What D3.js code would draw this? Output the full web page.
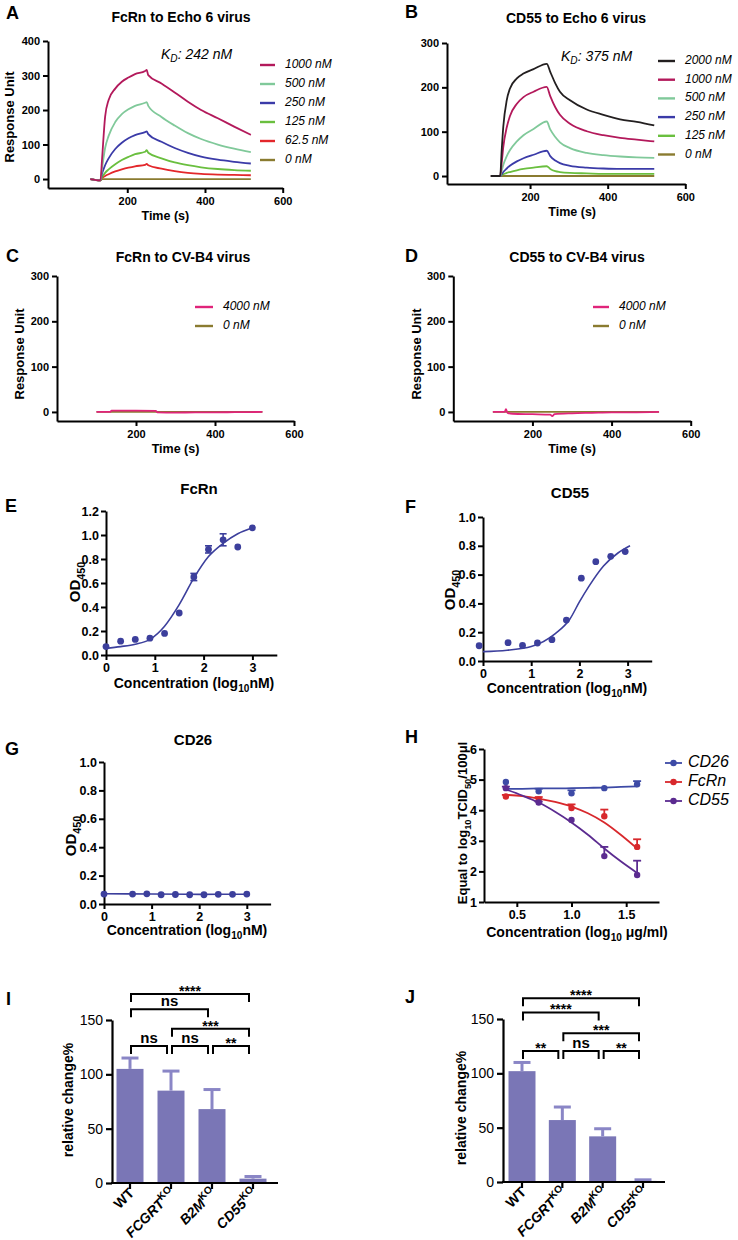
<!DOCTYPE html>
<html><head><meta charset="utf-8">
<script src="https://cdn.jsdelivr.net/npm/d3@7"></script>
<style>body{margin:0;background:#fff} svg{display:block}</style>
</head><body>
<svg id="c" width="738" height="1240"></svg>
<script>
// ---------------- DATA ----------------
// Panel A: FcRn to Echo 6 virus (SPR)
const timeA = [105, 131, 135, 143, 152, 169, 186, 203, 220, 246, 250, 254, 288, 322, 356, 390, 433, 475, 518];
const concA = ["1000 nM", "500 nM", "250 nM", "125 nM", "62.5 nM", "0 nM"];
const respA_1000 = [0, -4, 56, 181, 229, 262, 282, 294, 304, 313, 316, 301, 277, 251, 224, 200, 176, 152, 128];
const respA_500  = [0, -4, 30, 90, 125, 165, 188, 202, 212, 221, 223, 212, 180, 155, 133, 116, 100, 88, 78];
const respA_250  = [0, -4, 15, 40, 60, 87, 105, 118, 127, 136, 138, 130, 108, 90, 76, 65, 56, 50, 45];
const respA_125  = [0, -4, 5, 18, 28, 43, 55, 64, 72, 79, 84, 76, 60, 48, 40, 34, 29, 26, 24];
const respA_62   = [0, -4, 3, 9, 14, 22, 28, 33, 37, 41, 44, 40, 30, 23, 18, 15, 13, 12, 11];
const respA_0    = [0, -4, 0, 0, 0, 0, 0, 0, 0, 0, 0, 0, 0, 0, 0, 0, 0, 0, 0];
const kdA = "242 nM";

// Panel B: CD55 to Echo 6 virus (SPR)
const timeB = [99, 123, 127, 131, 140, 148, 166, 183, 209, 243, 252, 265, 277, 303, 346, 389, 432, 475, 520];
const concB = ["2000 nM", "1000 nM", "500 nM", "250 nM", "125 nM", "0 nM"];
const respB_2000 = [0, 0, 59, 111, 171, 197, 220, 231, 241, 253, 235, 209, 190, 171, 150, 138, 128, 122, 114];
const respB_1000 = [0, 0, 30, 65, 110, 135, 163, 178, 190, 201, 180, 155, 138, 118, 101, 92, 86, 82, 78];
const respB_500  = [0, 0, 12, 25, 45, 58, 78, 92, 106, 123, 105, 88, 76, 63, 52, 47, 44, 42, 41];
const respB_250  = [0, 0, 4, 9, 17, 23, 33, 40, 48, 57, 45, 35, 29, 23, 19, 17, 16, 16, 16];
const respB_125  = [0, 0, 2, 4, 7, 9, 13, 16, 19, 22, 16, 11, 9, 7, 6, 5, 5, 5, 5];
const respB_0    = [0, 0, 0, 0, 0, 0, 0, 0, 0, 0, 0, 0, 0, 0, 0, 0, 0, 0, 0];
const kdB = "375 nM";

// Panel C: FcRn to CV-B4 virus
const timeC = [100, 135, 138, 200, 250, 254, 300, 350, 400, 450, 520];
const concC = ["4000 nM", "0 nM"];
const respC_4000 = [0, 0, 3, 3, 2.5, -1, -1.5, -1, -1, -0.5, 0];
const respC_0    = [0, 0, 0, 0, 0, 0, 0, 0, 0, 0, 0];

// Panel D: CD55 to CV-B4 virus
const timeD = [100, 130, 133, 137, 150, 200, 245, 250, 256, 300, 350, 400, 450, 520];
const concD = ["4000 nM", "0 nM"];
const respD_4000 = [0, 0, 6, -2, -4, -5, -6, -9, -5, -3, -2, -1, -1, 0];
const respD_0    = [0, 0, 0, 0, 0, 0, 0, 0, 0, 0, 0, 0, 0, 0];

const timeTicks = [200, 400, 600];
const respTicksA = [0, 100, 200, 300, 400];
const respTicksB = [0, 100, 200, 300];

// Panel E: FcRn ELISA
const logE = [0, 0.3, 0.6, 0.9, 1.2, 1.5, 1.8, 2.1, 2.4, 2.7, 3.0];
const odE  = [0.07, 0.115, 0.13, 0.14, 0.18, 0.35, 0.65, 0.88, 0.96, 0.90, 1.06];
const errE = [0, 0, 0, 0, 0, 0, 0.03, 0.03, 0.05, 0, 0];
const fitXE = [0, 0.3, 0.6, 0.9, 1.2, 1.5, 1.8, 2.1, 2.4, 2.7, 3.0];
const fitYE = [0.055, 0.07, 0.09, 0.13, 0.24, 0.42, 0.64, 0.82, 0.93, 1.01, 1.06];

// Panel F: CD55 ELISA
const logF = [-0.08, 0.52, 0.82, 1.13, 1.43, 1.73, 2.04, 2.34, 2.65, 2.95];
const odF  = [0.106, 0.127, 0.108, 0.125, 0.148, 0.284, 0.575, 0.69, 0.727, 0.76];
const fitXF = [0, 0.5, 1.0, 1.5, 1.8, 2.0, 2.2, 2.5, 2.8, 3.05];
const fitYF = [0.065, 0.075, 0.1, 0.19, 0.29, 0.41, 0.52, 0.66, 0.75, 0.80];

// Panel G: CD26 ELISA
const logG = [0, 0.6, 0.9, 1.2, 1.5, 1.8, 2.1, 2.4, 2.7, 3.0];
const odG  = [0.07, 0.07, 0.072, 0.065, 0.067, 0.065, 0.065, 0.068, 0.068, 0.07];
const fitXG = [0, 1, 2, 3];
const fitYG = [0.072, 0.07, 0.068, 0.069];

const logTicks = [0, 1, 2, 3];
const odTicksE = [0, 0.2, 0.4, 0.6, 0.8, 1.0, 1.2];
const odTicksF = [0, 0.2, 0.4, 0.6, 0.8, 1.0];

// Panel H: neutralisation
const logH = [0.4, 0.7, 1.0, 1.3, 1.6];
const seriesH = ["CD26", "FcRn", "CD55"];
const titerCD26 = [4.92, 4.62, 4.55, 4.72, 4.85];
const errCD26   = [0, 0.08, 0.1, 0, 0.1];
const titerFcRn = [4.45, 4.35, 4.07, 3.8, 2.8];
const errFcRn   = [0.05, 0.08, 0.12, 0.22, 0.25];
const titerCD55 = [4.72, 4.25, 3.68, 2.5, 1.88];
const errCD55   = [0.05, 0.03, 0, 0.3, 0.47];
const fitXH = [0.4, 0.55, 0.7, 0.85, 1.0, 1.15, 1.3, 1.45, 1.6];
const fitCD26 = [4.7, 4.7, 4.71, 4.71, 4.72, 4.73, 4.74, 4.76, 4.78];
const fitFcRn = [4.5, 4.46, 4.38, 4.27, 4.12, 3.9, 3.6, 3.2, 2.75];
const fitCD55 = [4.68, 4.48, 4.25, 3.95, 3.6, 3.2, 2.75, 2.33, 1.95];
const logTicksH = [0.5, 1.0, 1.5];
const titerTicks = [1, 2, 3, 4, 5, 6];

// Panels I, J: bars
const cellLines = ["WT", "FCGRT", "B2M", "CD55"];
const barI = [105, 85, 68, 4];
const errI = [10, 18, 18, 2];
const barJ = [102, 57, 42, 1];
const errJ = [8, 12, 7, 1];
const barTicks = [0, 50, 100, 150];
const sigPairs = [["WT", "CD55"], ["WT", "B2M"], ["FCGRT", "CD55"], ["WT", "FCGRT"], ["FCGRT", "B2M"], ["B2M", "CD55"]];
const sigI = ["****", "ns", "***", "ns", "ns", "**"];
const sigJ = ["****", "****", "***", "**", "ns", "**"];

// ---------------- DRAWING ----------------
const FONT = '"Liberation Sans", Arial, Helvetica, sans-serif';
const svg = d3.select('#c');
svg.append('rect').attr('width', 738).attr('height', 1240).attr('fill', '#fff');

function styleAxis(sel, fs, fw, sw) {
  sel.attr('font-family', FONT).attr('font-size', fs);
  sel.select('.domain').attr('stroke', '#000').attr('stroke-width', sw);
  sel.selectAll('.tick line').attr('stroke', '#000').attr('stroke-width', sw);
  sel.selectAll('.tick text').attr('font-size', fs).attr('font-weight', fw).attr('fill', '#000');
}

function rich(g, x, y, parts, o) {
  o = o || {};
  const fs = o.fs || 12;
  const t = g.append('text').attr('x', x).attr('y', y)
    .attr('font-family', FONT).attr('font-size', fs)
    .attr('font-weight', o.fw || 'bold').attr('font-style', o.fi || 'normal')
    .attr('text-anchor', o.anchor || 'start').attr('fill', '#000');
  if (o.rot) t.attr('transform', `rotate(${o.rot},${x},${y})`);
  if (o.mid) t.attr('dominant-baseline', 'middle');
  let shift = 0;
  parts.forEach(p => {
    const s = typeof p === 'string' ? p : p[0];
    const kind = typeof p === 'string' ? 'n' : p[1];
    const target = kind === 'sub' ? fs * 0.3 : kind === 'sup' ? -fs * 0.4 : 0;
    const ts = t.append('tspan').attr('dy', target - shift).attr('font-size', kind === 'n' ? fs : fs * 0.72).text(s);
    if (p[2]) ts.attr('font-style', p[2]);
    shift = target;
  });
  return t;
}

function letter(x, y, s) { rich(svg, x, y, [s], { fs: 18 }); }

// ---- SPR panels ----
function sprPanel(p) {
  const x = d3.scaleLinear().domain(p.xd).range(p.xr);
  const y = d3.scaleLinear().domain(p.yd).range(p.yr);
  const g = svg.append('g');
  const ax = g.append('g').attr('transform', `translate(0,${p.yr[0]})`)
    .call(d3.axisBottom(x).tickValues(timeTicks).tickSize(5).tickSizeOuter(0).tickPadding(4));
  styleAxis(ax, 11, 'bold', 2);
  const ay = g.append('g').attr('transform', `translate(${p.xr[0]},0)`)
    .call(d3.axisLeft(y).tickValues(p.yTicks).tickSize(5).tickSizeOuter(0).tickPadding(3));
  styleAxis(ay, 11, 'bold', 2);
  const line = d3.line().x((d, i) => x(p.times[i])).y(d => y(d)).curve(d3.curveMonotoneX);
  p.series.slice().reverse().forEach(s => {
    g.append('path').attr('d', line(s.values)).attr('fill', 'none')
      .attr('stroke', s.color).attr('stroke-width', 1.8).attr('stroke-linejoin', 'round');
  });
  p.series.forEach((s, i) => {
    const ly = p.leg.y0 + i * p.leg.dy;
    g.append('line').attr('x1', p.leg.x0).attr('x2', p.leg.x1).attr('y1', ly).attr('y2', ly)
      .attr('stroke', s.color).attr('stroke-width', 2.4);
    rich(g, p.leg.tx, ly, [s.name], { fs: 12, fw: 'normal', fi: 'italic', mid: true });
  });
  const xm = (p.xr[0] + p.xr[1]) / 2 + (p.tShift || 0);
  rich(g, p.titleX, p.titleY, [p.title], { fs: 14, anchor: 'middle' });
  rich(g, xm, p.yr[0] + 32, ['Time (s)'], { fs: 12.5, anchor: 'middle' });
  if (p.ylab) rich(g, p.ylab[0], p.ylab[1], ['Response Unit'], { fs: 13, anchor: 'middle', rot: -90 });
  if (p.kd) rich(g, p.kd.x, p.kd.y, ['K', ['D', 'sub'], ':  ', p.kd.v], { fs: 14, fw: 'normal', fi: 'italic', mid: true });
}

const cols = { c2000: '#231f20', c1000: '#b3195b', c500: '#80c99a', c250: '#3b3ba8', c125: '#6abf3f', c62: '#e3272b', c0: '#8a7b30', c4000: '#e0247a' };

sprPanel({
  xd: [-4, 600], xr: [48, 282.7], yd: [-26, 400], yr: [188, 41], yTicks: respTicksA, times: timeA,
  series: [
    { name: concA[0], color: cols.c1000, values: respA_1000 },
    { name: concA[1], color: cols.c500, values: respA_500 },
    { name: concA[2], color: cols.c250, values: respA_250 },
    { name: concA[3], color: cols.c125, values: respA_125 },
    { name: concA[4], color: cols.c62, values: respA_62 },
    { name: concA[5], color: cols.c0, values: respA_0 }],
  leg: { x0: 260, x1: 275, tx: 285, y0: 65, dy: 19 },
  title: 'FcRn to Echo 6 virus', titleX: 181, titleY: 22,
  ylab: [14, 117], kd: { x: 161, y: 55, v: kdA }
});
sprPanel({
  xd: [-14, 600], xr: [447, 685.3], yd: [-18, 300], yr: [184, 43], yTicks: respTicksB, times: timeB,
  series: [
    { name: concB[0], color: cols.c2000, values: respB_2000 },
    { name: concB[1], color: cols.c1000, values: respB_1000 },
    { name: concB[2], color: cols.c500, values: respB_500 },
    { name: concB[3], color: cols.c250, values: respB_250 },
    { name: concB[4], color: cols.c125, values: respB_125 },
    { name: concB[5], color: cols.c0, values: respB_0 }],
  leg: { x0: 658, x1: 675, tx: 685, y0: 61, dy: 18.7 },
  title: 'CD55 to Echo 6 virus', titleX: 576, titleY: 23, tShift: 6,
  ylab: null, kd: { x: 561, y: 57, v: kdB }
});
sprPanel({
  xd: [0, 600], xr: [57, 294], yd: [-20, 300], yr: [421, 276], yTicks: respTicksB, times: timeC,
  series: [
    { name: concC[0], color: cols.c4000, values: respC_4000 },
    { name: concC[1], color: cols.c0, values: respC_0 }],
  leg: { x0: 195, x1: 213, tx: 223, y0: 307, dy: 19 },
  title: 'FcRn to CV-B4 virus', titleX: 183, titleY: 262,
  ylab: [24, 354]
});
sprPanel({
  xd: [0, 600], xr: [453.3, 690.7], yd: [-20, 300], yr: [421, 276], yTicks: respTicksB, times: timeD,
  series: [
    { name: concD[0], color: cols.c4000, values: respD_4000 },
    { name: concD[1], color: cols.c0, values: respD_0 }],
  leg: { x0: 593, x1: 609, tx: 619, y0: 307, dy: 19 },
  title: 'CD55 to CV-B4 virus', titleX: 577, titleY: 262,
  ylab: [421, 354]
});

// ---- ELISA panels ----
const dotBlue = '#3c3f9c';
function elisa(p) {
  const x = d3.scaleLinear().domain([0, 3.5]).range(p.xr);
  const y = d3.scaleLinear().domain([0, p.ymax]).range(p.yr);
  const g = svg.append('g');
  const ax = g.append('g').attr('transform', `translate(0,${p.yr[0]})`)
    .call(d3.axisBottom(x).tickValues(logTicks).tickFormat(d3.format('d')).tickSize(5).tickSizeOuter(0).tickPadding(3));
  styleAxis(ax, 12.5, 'bold', 2);
  const ay = g.append('g').attr('transform', `translate(${p.xr[0]},0)`)
    .call(d3.axisLeft(y).tickValues(p.ticks).tickFormat(d3.format('.1f')).tickSize(5).tickSizeOuter(0).tickPadding(2));
  styleAxis(ay, 12.5, 'bold', 2);
  const line = d3.line().x((d, i) => x(p.fx[i])).y(d => y(d)).curve(d3.curveMonotoneX);
  g.append('path').attr('d', line(p.fy)).attr('fill', 'none').attr('stroke', dotBlue).attr('stroke-width', 1.6);
  p.xs.forEach((xv, i) => {
    const e = p.err ? p.err[i] : 0;
    if (e > 0) {
      g.append('line').attr('x1', x(xv)).attr('x2', x(xv)).attr('y1', y(p.ys[i] - e)).attr('y2', y(p.ys[i] + e)).attr('stroke', dotBlue).attr('stroke-width', 1.6);
      [p.ys[i] - e, p.ys[i] + e].forEach(v => g.append('line').attr('x1', x(xv) - 3.5).attr('x2', x(xv) + 3.5).attr('y1', y(v)).attr('y2', y(v)).attr('stroke', dotBlue).attr('stroke-width', 1.6));
    }
    g.append('circle').attr('cx', x(xv)).attr('cy', y(p.ys[i])).attr('r', 3.4).attr('fill', dotBlue);
  });
  rich(g, p.titleX, p.titleY, [p.title], { fs: 15, anchor: 'middle' });
  rich(g, p.xlab[0], p.xlab[1], ['Concentration (log', ['10', 'sub'], 'nM)'], { fs: 14, anchor: 'middle' });
  rich(g, p.ylab[0], p.ylab[1], ['OD', ['450', 'sub']], { fs: 15, anchor: 'middle', rot: -90 });
}
elisa({ xr: [106, 276.8], ymax: 1.2, yr: [655, 511], ticks: odTicksE, xs: logE, ys: odE, err: errE, fx: fitXE, fy: fitYE,
  title: 'FcRn', titleX: 199, titleY: 494, xlab: [194, 688], ylab: [80, 582] });
elisa({ xr: [483, 651.7], ymax: 1.0, yr: [661, 517], ticks: odTicksF, xs: logF, ys: odF, err: null, fx: fitXF, fy: fitYF,
  title: 'CD55', titleX: 570, titleY: 498, xlab: [567, 693], ylab: [455, 590] });
elisa({ xr: [104, 270.6], ymax: 1.0, yr: [904, 762], ticks: odTicksF, xs: logG, ys: odG, err: null, fx: fitXG, fy: fitYG,
  title: 'CD26', titleX: 193, titleY: 745, xlab: [187, 935], ylab: [76, 836] });

// ---- Panel H ----
(function () {
  const x = d3.scaleLinear().domain([0.2, 1.8]).range([484, 659]);
  const y = d3.scaleLinear().domain([1, 6]).range([902, 749]);
  const g = svg.append('g');
  const ax = g.append('g').attr('transform', 'translate(0,902)')
    .call(d3.axisBottom(x).tickValues(logTicksH).tickFormat(d3.format('.1f')).tickSize(5).tickSizeOuter(0).tickPadding(3));
  styleAxis(ax, 12.5, 'bold', 2);
  const ay = g.append('g').attr('transform', 'translate(484,0)')
    .call(d3.axisLeft(y).tickValues(titerTicks).tickFormat(d3.format('d')).tickSize(5).tickSizeOuter(0).tickPadding(2));
  styleAxis(ay, 12.5, 'bold', 2);
  const colsH = ['#3d4aa6', '#d8282c', '#5b2b90'];
  const means = [titerCD26, titerFcRn, titerCD55];
  const errs = [errCD26, errFcRn, errCD55];
  const fits = [fitCD26, fitFcRn, fitCD55];
  const line = d3.line().x((d, i) => x(fitXH[i])).y(d => y(d)).curve(d3.curveMonotoneX);
  [0, 1, 2].forEach(k => {
    g.append('path').attr('d', line(fits[k])).attr('fill', 'none').attr('stroke', colsH[k]).attr('stroke-width', 1.8);
    logH.forEach((xv, i) => {
      const m = means[k][i], e = errs[k][i];
      if (e > 0) {
        g.append('line').attr('x1', x(xv)).attr('x2', x(xv)).attr('y1', y(m)).attr('y2', y(m + e)).attr('stroke', colsH[k]).attr('stroke-width', 1.8);
        g.append('line').attr('x1', x(xv) - 4).attr('x2', x(xv) + 4).attr('y1', y(m + e)).attr('y2', y(m + e)).attr('stroke', colsH[k]).attr('stroke-width', 1.8);
      }
      g.append('circle').attr('cx', x(xv)).attr('cy', y(m)).attr('r', 3.2).attr('fill', colsH[k]);
    });
    const ly = 763 + k * 19;
    g.append('line').attr('x1', 665).attr('x2', 682).attr('y1', ly).attr('y2', ly).attr('stroke', colsH[k]).attr('stroke-width', 1.8);
    g.append('circle').attr('cx', 673.5).attr('cy', ly).attr('r', 3.2).attr('fill', colsH[k]);
    rich(g, 688, ly, [seriesH[k]], { fs: 16, fw: 'normal', fi: 'italic', mid: true });
  });
  rich(g, 577, 937, ['Concentration (log', ['10', 'sub'], ' μg/ml)'], { fs: 14, anchor: 'middle' });
  rich(g, 467, 823, ['Equal to log', ['10', 'sub'], 'TCID', ['50', 'sub'], '/100μl'], { fs: 13, anchor: 'middle', rot: -90 });
})();

// ---- Bar panels ----
const barFill = '#7a76b6', errCol = '#8a86c6';
function barPanel(p) {
  const x = d3.scalePoint().domain(cellLines).range(p.xc);
  const y = d3.scaleLinear().domain([0, 150]).range(p.yr);
  const g = svg.append('g');
  const bw = 27;
  p.vals.forEach((v, i) => {
    const cx = x(cellLines[i]);
    g.append('rect').attr('x', cx - bw / 2).attr('y', y(v)).attr('width', bw).attr('height', y(0) - y(v)).attr('fill', barFill);
    const top = v + p.errs[i];
    g.append('line').attr('x1', cx).attr('x2', cx).attr('y1', y(v)).attr('y2', y(top)).attr('stroke', errCol).attr('stroke-width', 3);
    g.append('line').attr('x1', cx - 8.5).attr('x2', cx + 8.5).attr('y1', y(top)).attr('y2', y(top)).attr('stroke', errCol).attr('stroke-width', 3);
  });
  const ay = g.append('g').attr('transform', `translate(${p.axX[0]},0)`)
    .call(d3.axisLeft(y).tickValues(barTicks).tickSize(6).tickSizeOuter(0).tickPadding(3));
  styleAxis(ay, 14, 'normal', 2.2);
  g.append('line').attr('x1', p.axX[0] - 1).attr('x2', p.axX[1]).attr('y1', p.yr[0]).attr('y2', p.yr[0]).attr('stroke', '#000').attr('stroke-width', 2.2);
  cellLines.forEach((c, i) => {
    const cx = x(c);
    g.append('line').attr('x1', cx).attr('x2', cx).attr('y1', p.yr[0]).attr('y2', p.yr[0] + 6).attr('stroke', '#000').attr('stroke-width', 2.2);
    const parts = i === 0 ? ['WT'] : [[c, 'n', 'italic'], ['KO', 'sup']];
    rich(g, cx + 5, p.yr[0] + 11, parts, { fs: 14, anchor: 'end', rot: -45 });
  });
  // significance brackets
  sigPairs.forEach((pr, k) => {
    const lv = p.levels[k];
    const x1 = x(pr[0]) + 1, x2 = x(pr[1]) - 4;
    const yy = y(lv);
    g.append('path').attr('d', `M${x1},${yy + 8}V${yy}H${x2}V${yy + 8}`).attr('fill', 'none').attr('stroke', '#000').attr('stroke-width', 2);
    const lab = p.sig[k];
    const isNs = lab === 'ns';
    rich(g, (x1 + x2) / 2, yy - (isNs ? 3 : -2), [lab], { fs: isNs ? 15 : 14, anchor: 'middle' });
  });
  rich(g, p.ylab[0], p.ylab[1], ['relative change%'], { fs: 14, anchor: 'middle', rot: -90 });
}
barPanel({ xc: [130, 253], yr: [1183, 1020], axX: [112, 278], vals: barI, errs: errI, sig: sigI,
  levels: [174, 160, 142, 126, 126, 126], ylab: [73, 1100] });
barPanel({ xc: [522, 643], yr: [1182, 1019], axX: [503, 665], vals: barJ, errs: errJ, sig: sigJ,
  levels: [169, 156, 137, 120.5, 120.5, 120.5], ylab: [466, 1108] });

// panel letters
letter(6, 19, 'A'); letter(405, 18, 'B');
letter(6, 262, 'C'); letter(405, 262, 'D');
letter(5, 512, 'E'); letter(405, 513, 'F');
letter(5, 755, 'G'); letter(405, 743, 'H');
letter(6, 1005, 'I'); letter(405, 1003, 'J');
</script>
</body></html>
